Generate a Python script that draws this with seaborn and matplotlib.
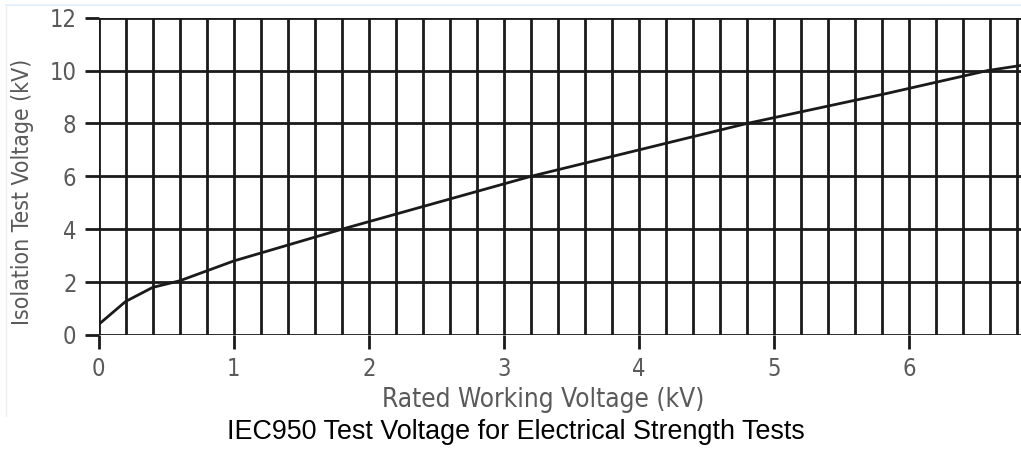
import matplotlib.pyplot as plt
import matplotlib.lines as mlines
import numpy as np
import pandas as pd
import seaborn as sns

# values
rated_kv = [0.0, 0.2, 0.4, 0.6, 1.0, 1.8, 3.2, 4.8, 5.83, 6.58, 6.9]
test_kv = [0.4, 1.27, 1.8, 2.05, 2.8, 4.0, 6.0, 8.0, 9.13, 10.0, 10.25]
y_ticks = [0, 2, 4, 6, 8, 10, 12]
x_ticks = [0, 1, 2, 3, 4, 5, 6]

df = pd.DataFrame({'rated': rated_kv, 'test': test_kv})

sns.set_style('white')
grey = '#5a5a5a'
ink = '#1a1a1a'

fig = plt.figure(figsize=(10.21, 4.5), dpi=100)
ax = fig.add_axes([0.0967, 0.2556, 0.91, 0.705])

sns.lineplot(data=df, x='rated', y='test', ax=ax, color=ink, linewidth=2.0, zorder=5)

ax.set_xlim(0, 6.88)
ax.set_ylim(0, 12)

# fine vertical grid every 0.2 kV, horizontal every 2 kV
for v in np.arange(0, 6.9, 0.2):
    ax.axvline(v, color=ink, lw=2.0, zorder=2)
for h in y_ticks:
    ax.axhline(h, color=ink, lw=2.0, zorder=2)

for s in ['right', 'top', 'left', 'bottom']:
    ax.spines[s].set_visible(False)

ax.set_xticks(x_ticks)
ax.set_yticks(y_ticks)
ax.tick_params(axis='both', direction='out', length=10, width=2.0, color=ink,
               labelcolor=grey, labelsize=17, pad=6, left=True, bottom=True)
for lab in ax.get_xticklabels() + ax.get_yticklabels():
    lab.set_family('DejaVu Sans')
    lab.set_stretch('condensed')

ax.set_xlabel('Rated Working Voltage (kV)', fontsize=18.8, color=grey, stretch='condensed', labelpad=6)
ax.xaxis.set_label_coords(0.478, -0.165)
ax.set_ylabel('Isolation Test Voltage (kV)', fontsize=16.5, color=grey, stretch='condensed')
ax.yaxis.set_label_coords(-0.07, 0.45)

fig.text(0.505, 0.04, 'IEC950 Test Voltage for Electrical Strength Tests',
         ha='center', va='center', fontsize=19.4, color='black', family='Liberation Sans')

# faint border lines of the original image
fig.add_artist(mlines.Line2D([0.006, 1.0], [0.989, 0.989], color='#e6f0fa', lw=1.5))
fig.add_artist(mlines.Line2D([0.006, 0.006], [0.075, 0.989], color='#eeeeee', lw=1.0))

fig.savefig('out.png', dpi=100)
